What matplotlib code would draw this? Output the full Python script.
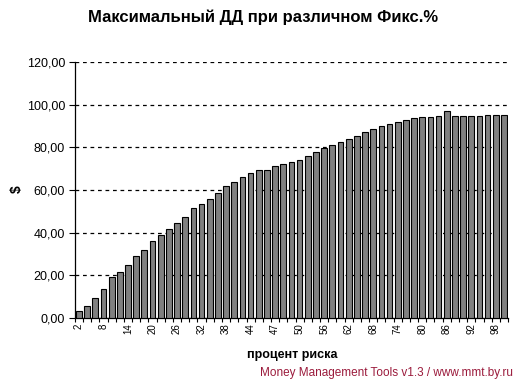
import matplotlib
matplotlib.use('Agg')
import matplotlib.pyplot as plt
import numpy as np

# Категории (процент риска) и значения максимального ДД
risk_pct = list(range(2, 45, 2)) + list(range(45, 51)) + list(range(52, 101, 2))
max_dd = [3.4, 5.6, 9.2, 13.6, 19.1, 21.4, 25.0, 29.0, 31.8, 36.0,
          38.8, 41.6, 44.5, 47.3, 51.5, 53.4, 55.7, 58.8, 61.8, 63.8,
          65.9, 68.2, 69.5, 69.5, 71.4, 72.2, 73.1, 74.0, 76.2, 77.8,
          79.6, 81.0, 82.4, 84.0, 85.5, 87.1, 88.5, 90.1, 90.9, 92.0,
          92.9, 94.0, 94.5, 94.5, 94.8, 97.0, 94.8, 94.8, 94.8, 94.8,
          95.4, 95.4, 95.4]
y_ticks = [0, 20, 40, 60, 80, 100, 120]

plt.rcParams['font.family'] = ['Liberation Sans', 'DejaVu Sans']

fig = plt.figure(figsize=(5.2, 3.79), dpi=100)
ax = fig.add_axes([0.144, 0.161, 0.833, 0.675])

x = np.arange(len(risk_pct))
ax.bar(x, max_dd, width=0.7, color='#808080', edgecolor='black', linewidth=0.8, zorder=3)

ax.set_xlim(-0.5, len(risk_pct) - 0.5)
ax.set_ylim(0, 120)
ax.set_yticks(y_ticks)
ax.set_yticklabels([f"{v:.2f}".replace('.', ',') for v in y_ticks], fontsize=9)
ax.yaxis.grid(True, color='black', linestyle=(0, (3, 3)), linewidth=0.9)
ax.set_axisbelow(True)

ax.set_xticks(x[::3])
ax.set_xticklabels([str(v) for v in risk_pct[::3]], rotation=90, fontsize=7)
ax.set_xticks(np.arange(len(risk_pct) + 1) - 0.5, minor=True)
ax.tick_params(axis='x', which='major', length=0, pad=4)
ax.tick_params(axis='x', which='minor', length=3, width=0.8, direction='out')
ax.tick_params(axis='y', length=4, width=0.8, direction='out', pad=3)

for s in ['top', 'right']:
    ax.spines[s].set_visible(False)
for s in ['left', 'bottom']:
    ax.spines[s].set_linewidth(0.9)

fig.text(0.505, 0.955, 'Максимальный ДД при различном Фикс.%', ha='center', va='center',
         fontsize=12, fontweight='bold')
fig.text(0.033, 0.5, '$', rotation=90, ha='center', va='center', fontsize=10, fontweight='bold')
fig.text(0.562, 0.063, 'процент риска', ha='center', va='center', fontsize=9, fontweight='bold')
fig.text(0.986, 0.016, 'Money Management Tools v1.3 / www.mmt.by.ru', ha='right', va='center',
         fontsize=8.5, color='#9B1B3C')

fig.savefig('out.png', dpi=100)
